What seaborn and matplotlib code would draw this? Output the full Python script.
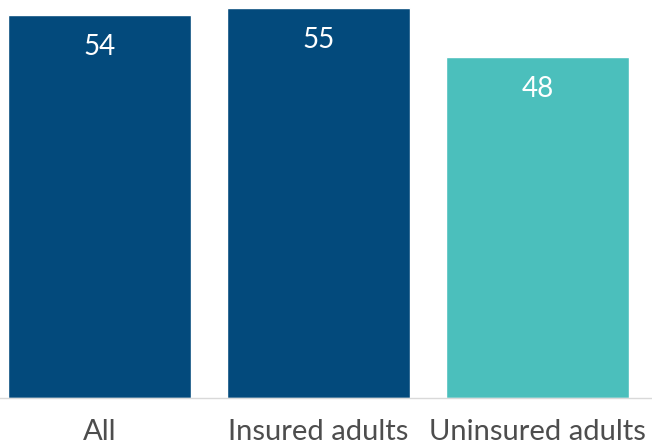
import matplotlib
matplotlib.use("Agg")
import matplotlib.pyplot as plt
import seaborn as sns
import pandas as pd

categories = ["All", "Insured adults", "Uninsured adults"]
values = [54, 55, 48]
colors = ["#034a7c", "#034a7c", "#4bbfbc"]

df = pd.DataFrame({"group": categories, "value": values})

sns.set_style("white")
plt.rcParams["font.family"] = ["Lato", "DejaVu Sans"]

fig = plt.figure(figsize=(6.52, 4.44), dpi=100)
ax = fig.add_axes([0, 46 / 444, 1, 398 / 444])
sns.barplot(data=df, x="group", y="value", hue="group", palette=colors,
            legend=False, width=183 / 219, saturation=1, ax=ax)

# value labels inside bar tops
for i, v in enumerate(values):
    ax.annotate(str(v), (i, v), xytext=(0, -23), textcoords="offset points",
                ha="center", va="center", color="white", fontsize=20)

ax.set_xlim(-99.5 / 219, (652 - 99.5) / 219)
ax.set_ylim(0, 56.1)
ax.set_xlabel("")
ax.set_ylabel("")
ax.set_yticks([])
ax.tick_params(axis="x", length=0, pad=15, labelsize=21, labelcolor="#4d4d4d")
for s in ["top", "left", "right"]:
    ax.spines[s].set_visible(False)
ax.spines["bottom"].set_color("#d9d9d9")
ax.spines["bottom"].set_linewidth(1)

fig.savefig("out.png", dpi=100)
